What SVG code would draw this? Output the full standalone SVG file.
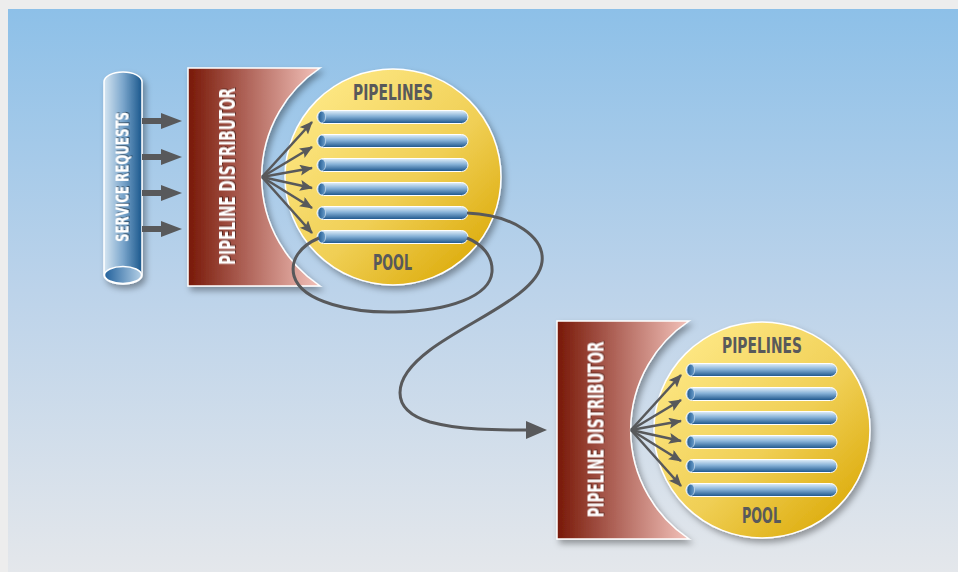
<svg xmlns="http://www.w3.org/2000/svg" width="958" height="572" viewBox="0 0 958 572">
<style>
.lbl{font-family:"DejaVu Sans Condensed","Liberation Sans Narrow","Liberation Sans",sans-serif;font-weight:bold;font-stretch:condensed;}
.dark{fill:#58595b;}
.white{fill:#ffffff;}
.conn{fill:none;stroke:#58595b;}
.fan{fill:none;stroke:#58595b;stroke-width:2.6;}
</style>
<defs>
<linearGradient id="bg" x1="0" y1="0" x2="0" y2="1">
<stop offset="0" stop-color="#8dc0e8"/>
<stop offset="0.5" stop-color="#bcd3ea"/>
<stop offset="1" stop-color="#e4e7eb"/>
</linearGradient>
<linearGradient id="distGrad" x1="0" y1="0" x2="1" y2="0">
<stop offset="0" stop-color="#781807"/>
<stop offset="0.45" stop-color="#b0655a"/>
<stop offset="1" stop-color="#f3c2ba"/>
</linearGradient>
<linearGradient id="poolGrad" x1="0.15" y1="0.1" x2="0.9" y2="0.9">
<stop offset="0" stop-color="#fde783"/>
<stop offset="0.55" stop-color="#f0cf55"/>
<stop offset="1" stop-color="#dcab0a"/>
</linearGradient>
<linearGradient id="pipeGrad" x1="0" y1="0" x2="0" y2="1">
<stop offset="0" stop-color="#e3f0fa"/>
<stop offset="0.45" stop-color="#86b1d7"/>
<stop offset="1" stop-color="#1a538a"/>
</linearGradient>
<linearGradient id="pipeEnd" x1="0" y1="0" x2="1" y2="0">
<stop offset="0" stop-color="#1d578e"/>
<stop offset="1" stop-color="#6d9fcc"/>
</linearGradient>
<linearGradient id="cylGrad" x1="0" y1="0" x2="1" y2="0">
<stop offset="0" stop-color="#d6e6f2"/>
<stop offset="0.5" stop-color="#7ba6cc"/>
<stop offset="1" stop-color="#1a578c"/>
</linearGradient>
<linearGradient id="cylEnd" x1="0" y1="0" x2="1" y2="0">
<stop offset="0" stop-color="#22619c"/>
<stop offset="1" stop-color="#b3cfe6"/>
</linearGradient>
<filter id="shadow" x="-20%" y="-20%" width="150%" height="150%">
<feDropShadow dx="3" dy="4" stdDeviation="3" flood-color="#000" flood-opacity="0.35"/>
</filter>
<filter id="tshadow" x="-10%" y="-10%" width="130%" height="130%">
<feDropShadow dx="1" dy="1" stdDeviation="0.6" flood-color="#000" flood-opacity="0.45"/>
</filter>
<marker id="bigHead" markerUnits="userSpaceOnUse" markerWidth="22" markerHeight="18" refX="1" refY="8" orient="auto">
<path d="M0,0 L21,8 L0,16 Z" fill="#58595b"/>
</marker>
<marker id="fanHead" markerUnits="userSpaceOnUse" markerWidth="14" markerHeight="12" refX="12" refY="5.5" orient="auto">
<path d="M0,0 L13,5.5 L0,11 L2.5,5.5 Z" fill="#58595b"/>
</marker>
<marker id="connHead" markerUnits="userSpaceOnUse" markerWidth="22" markerHeight="20" refX="2" refY="9" orient="auto">
<path d="M0,0 L21,9 L0,18 Z" fill="#58595b"/>
</marker>
<g id="pipe">
<rect x="0" y="-6.5" width="151" height="13" rx="6.5" fill="url(#pipeGrad)" stroke="#ffffff" stroke-width="1"/>
<ellipse cx="4.8" cy="0" rx="3.8" ry="5.8" fill="url(#pipeEnd)" stroke="#dbe9f5" stroke-width="0.6"/>
</g>
</defs>

<rect x="0" y="0" width="958" height="572" fill="#ededed"/>
<rect x="8" y="9" width="950" height="563" fill="url(#bg)"/>

<g id="service-requests">
<path d="M104,82 A19,10 0 0 1 142,82 L142,275 A19,9 0 0 1 104,275 Z" fill="url(#cylGrad)" stroke="#ffffff" stroke-width="1.5" filter="url(#shadow)"/>
<ellipse cx="123" cy="275" rx="18.5" ry="8.5" fill="url(#cylEnd)" stroke="#ffffff" stroke-width="1.5"/>
<text class="lbl white" x="0" y="0" font-size="18" text-anchor="middle" textLength="130" lengthAdjust="spacingAndGlyphs" transform="translate(128.5,177) rotate(-90)" filter="url(#tshadow)">SERVICE REQUESTS</text>
</g>

<g id="distributor-1">
<path d="M188,68 L320,68 A131,131 0 0 0 320,286 L188,286 Z" fill="url(#distGrad)" stroke="#ffffff" stroke-width="1.5" filter="url(#shadow)"/>
<text class="lbl white" x="0" y="0" font-size="21" text-anchor="middle" textLength="177" lengthAdjust="spacingAndGlyphs" transform="translate(235,176.5) rotate(-90)" filter="url(#tshadow)">PIPELINE DISTRIBUTOR</text>
</g>

<g id="pool-1">
<circle cx="393" cy="177" r="108" fill="url(#poolGrad)" stroke="#ffffff" stroke-width="1.5" filter="url(#shadow)"/>
<text class="lbl dark" x="393" y="100" font-size="21" text-anchor="middle" textLength="80" lengthAdjust="spacingAndGlyphs">PIPELINES</text>
<text class="lbl dark" x="392.5" y="270" font-size="21" text-anchor="middle" textLength="39" lengthAdjust="spacingAndGlyphs">POOL</text>
<use href="#pipe" x="317" y="117"/>
<use href="#pipe" x="317" y="141"/>
<use href="#pipe" x="317" y="165"/>
<use href="#pipe" x="317" y="189"/>
<use href="#pipe" x="317" y="213"/>
<use href="#pipe" x="317" y="237"/>
</g>

<g id="distributor-2">
<path d="M557,321 L689,321 A131,131 0 0 0 689,539 L557,539 Z" fill="url(#distGrad)" stroke="#ffffff" stroke-width="1.5" filter="url(#shadow)"/>
<text class="lbl white" x="0" y="0" font-size="21" text-anchor="middle" textLength="176" lengthAdjust="spacingAndGlyphs" transform="translate(603.5,429.5) rotate(-90)" filter="url(#tshadow)">PIPELINE DISTRIBUTOR</text>
</g>

<g id="pool-2">
<circle cx="762" cy="430" r="108" fill="url(#poolGrad)" stroke="#ffffff" stroke-width="1.5" filter="url(#shadow)"/>
<text class="lbl dark" x="762" y="353" font-size="21" text-anchor="middle" textLength="80" lengthAdjust="spacingAndGlyphs">PIPELINES</text>
<text class="lbl dark" x="761.5" y="523" font-size="21" text-anchor="middle" textLength="39" lengthAdjust="spacingAndGlyphs">POOL</text>
<use href="#pipe" x="686" y="370"/>
<use href="#pipe" x="686" y="394"/>
<use href="#pipe" x="686" y="418"/>
<use href="#pipe" x="686" y="442"/>
<use href="#pipe" x="686" y="466"/>
<use href="#pipe" x="686" y="490"/>
</g>

<g id="connectors">
<line x1="142" y1="121" x2="162" y2="121" stroke="#58595b" stroke-width="6" marker-end="url(#bigHead)"/>
<line x1="142" y1="157" x2="162" y2="157" stroke="#58595b" stroke-width="6" marker-end="url(#bigHead)"/>
<line x1="142" y1="193" x2="162" y2="193" stroke="#58595b" stroke-width="6" marker-end="url(#bigHead)"/>
<line x1="142" y1="229" x2="162" y2="229" stroke="#58595b" stroke-width="6" marker-end="url(#bigHead)"/>
<g transform="translate(262,177)">
<path class="fan" d="M0,0 L50,-55" marker-end="url(#fanHead)"/>
<path class="fan" d="M0,0 L50,-30" marker-end="url(#fanHead)"/>
<path class="fan" d="M0,0 L50,-9" marker-end="url(#fanHead)"/>
<path class="fan" d="M0,0 L50,11" marker-end="url(#fanHead)"/>
<path class="fan" d="M0,0 L50,31" marker-end="url(#fanHead)"/>
<path class="fan" d="M0,0 L50,56" marker-end="url(#fanHead)"/>
</g>
<g transform="translate(631,430)">
<path class="fan" d="M0,0 L50,-55" marker-end="url(#fanHead)"/>
<path class="fan" d="M0,0 L50,-30" marker-end="url(#fanHead)"/>
<path class="fan" d="M0,0 L50,-9" marker-end="url(#fanHead)"/>
<path class="fan" d="M0,0 L50,11" marker-end="url(#fanHead)"/>
<path class="fan" d="M0,0 L50,31" marker-end="url(#fanHead)"/>
<path class="fan" d="M0,0 L50,56" marker-end="url(#fanHead)"/>
</g>
<path class="conn" stroke-width="3" d="M319,238 C300,246 290,260 294,276 C302,303 355,313 395,312 C450,311 490,296 492,272 C493,256 482,244 467,238"/>
<path class="conn" stroke-width="3" d="M467,213 C515,215 545,238 542,262 C538,295 470,320 430,350 C390,380 390,410 430,422 C460,430 495,430 528,430" marker-end="url(#connHead)"/>
</g>
</svg>
